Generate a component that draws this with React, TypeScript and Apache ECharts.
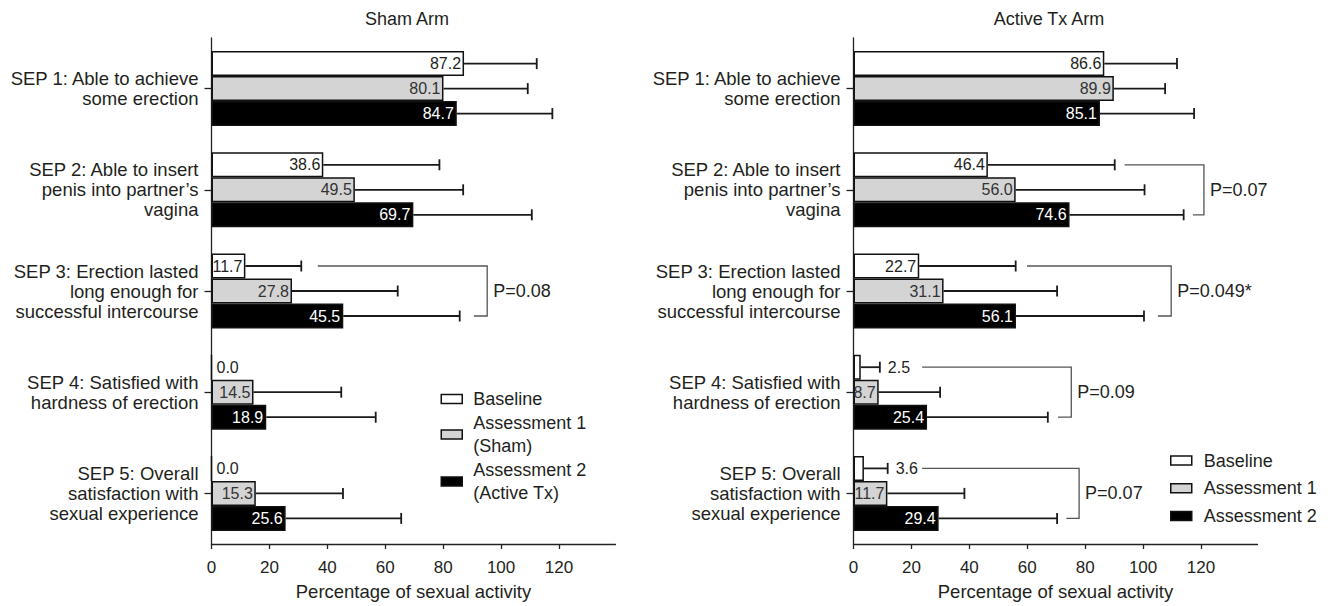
import React, { useEffect, useRef } from "react";
import * as echarts from "echarts";

const categories = [
  "SEP 1: Able to achieve\nsome erection",
  "SEP 2: Able to insert\npenis into partner’s\nvagina",
  "SEP 3: Erection lasted\nlong enough for\nsuccessful intercourse",
  "SEP 4: Satisfied with\nhardness of erection",
  "SEP 5: Overall\nsatisfaction with\nsexual experience",
];
const panelTitles = ["Sham Arm", "Active Tx Arm"];
const xTicks = [0, 20, 40, 60, 80, 100, 120];
const xAxisName = "Percentage of sexual activity";

const shamSeriesNames = ["Baseline", "Assessment 1\n(Sham)", "Assessment 2\n(Active Tx)"];
const activeSeriesNames = ["Baseline", "Assessment 1", "Assessment 2"];

const shamBaseline = [87.2, 38.6, 11.7, 0.0, 0.0];
const shamAssess1 = [80.1, 49.5, 27.8, 14.5, 15.3];
const shamAssess2 = [84.7, 69.7, 45.5, 18.9, 25.6];
// upper ends of the error bars
const shamBaselineErr = [112.3, 78.7, 31.0, 0, 0];
const shamAssess1Err = [109.2, 86.9, 64.3, 44.8, 45.4];
const shamAssess2Err = [117.7, 110.6, 85.7, 56.7, 65.5];

const activeBaseline = [86.6, 46.4, 22.7, 2.5, 3.6];
const activeAssess1 = [89.9, 56.0, 31.1, 8.7, 11.7];
const activeAssess2 = [85.1, 74.6, 56.1, 25.4, 29.4];
const activeBaselineErr = [111.7, 90.2, 56.0, 9.1, 11.8];
const activeAssess1Err = [107.6, 100.5, 70.3, 29.9, 38.3];
const activeAssess2Err = [117.6, 114.0, 100.3, 67.1, 70.3];

// p-value brackets: [category index, top arm start, vertical x, bottom arm start]
const shamBrackets = [[2, 36.7, 95.2, 90.6]];
const shamBracketLabels = ["P=0.08"];
const activeBrackets = [
  [1, 93.6, 121.0, 117.2],
  [2, 59.9, 109.7, 105.1],
  [3, 23.7, 75.2, 70.6],
  [4, 23.7, 77.9, 73.5],
];
const activeBracketLabels = ["P=0.07", "P=0.049*", "P=0.09", "P=0.07"];

const FONT = "'Liberation Sans', Arial, Helvetica, sans-serif";
const TEXT = "#231f20";
const FILLS = ["#ffffff", "#d4d4d4", "#000000"];
const LABEL_COLORS = ["#231f20", "#333333", "#ffffff"];
const X_MAX = 139.5;
const BAR_W = 25;

export default function App() {
  const ref = useRef<HTMLDivElement>(null);

  useEffect(() => {
    if (!ref.current) return;
    const chart = echarts.init(ref.current, undefined, { renderer: "svg" });

    const panels = [
      {
        names: shamSeriesNames,
        values: [shamBaseline, shamAssess1, shamAssess2],
        errs: [shamBaselineErr, shamAssess1Err, shamAssess2Err],
        brackets: shamBrackets,
        bracketLabels: shamBracketLabels,
      },
      {
        names: activeSeriesNames,
        values: [activeBaseline, activeAssess1, activeAssess2],
        errs: [activeBaselineErr, activeAssess1Err, activeAssess2Err],
        brackets: activeBrackets,
        bracketLabels: activeBracketLabels,
      },
    ];

    const grids = [
      { left: 211.5, top: 38, width: 404, height: 507 },
      { left: 853.5, top: 38, width: 404, height: 507 },
    ];

    const series: any[] = [];
    panels.forEach((p, pi) => {
      p.values.forEach((vals, si) => {
        series.push({
          type: "bar",
          name: p.names[si],
          xAxisIndex: pi,
          yAxisIndex: pi,
          barWidth: BAR_W,
          barGap: "0%",
          itemStyle: { color: FILLS[si], borderColor: "#111", borderWidth: 1.5 },
          label: {
            show: true,
            position: "insideRight",
            distance: 3,
            color: LABEL_COLORS[si],
            fontSize: 16,
            fontFamily: FONT,
            formatter: (prm: any) => Number(prm.value).toFixed(1),
          },
          data: vals.map((v) => (v < 5 ? { value: v, label: { show: false } } : v)),
          z: 2,
        });
      });
      p.values.forEach((vals, si) => {
        const errs = p.errs[si];
        const offset = (si - 1) * BAR_W;
        series.push({
          type: "custom",
          xAxisIndex: pi,
          yAxisIndex: pi,
          silent: true,
          z: 3,
          encode: { x: [0, 1], y: 2 },
          data: vals.map((v, c) => [v, errs[c], c]),
          renderItem: (params: any, api: any) => {
            const v = api.value(0);
            const e = api.value(1);
            const c = api.value(2);
            const base = api.coord([v, c]);
            const end = api.coord([e, c]);
            const y = base[1] + offset;
            const children: any[] = [];
            if (e > v) {
              children.push({
                type: "line",
                shape: { x1: base[0], y1: y, x2: end[0], y2: y },
                style: { stroke: "#1a1a1a", lineWidth: 1.8 },
              });
              children.push({
                type: "line",
                shape: { x1: end[0], y1: y - 5.5, x2: end[0], y2: y + 5.5 },
                style: { stroke: "#1a1a1a", lineWidth: 1.8 },
              });
            }
            if (v < 5) {
              const lx = (e > v ? end[0] : base[0]) + (e > v ? 8 : 5);
              children.push({
                type: "text",
                style: {
                  x: lx,
                  y: y,
                  text: Number(v).toFixed(1),
                  fill: TEXT,
                  fontSize: 16,
                  fontFamily: FONT,
                  verticalAlign: "middle",
                  align: "left",
                },
              });
            }
            return { type: "group", children };
          },
        });
      });
      series.push({
        type: "custom",
        xAxisIndex: pi,
        yAxisIndex: pi,
        silent: true,
        z: 3,
        encode: { x: [1, 2, 3], y: 0 },
        data: p.brackets,
        renderItem: (params: any, api: any) => {
          const c = api.value(0);
          const a = api.coord([api.value(1), c]);
          const v = api.coord([api.value(2), c]);
          const b = api.coord([api.value(3), c]);
          const top = a[1] - BAR_W;
          const bottom = a[1] + BAR_W;
          return {
            type: "group",
            children: [
              {
                type: "polyline",
                shape: {
                  points: [
                    [a[0], top],
                    [v[0], top],
                    [v[0], bottom],
                    [b[0], bottom],
                  ],
                },
                style: { stroke: "#555", lineWidth: 1.3, fill: "none" },
              },
              {
                type: "text",
                style: {
                  x: v[0] + 6,
                  y: a[1],
                  text: p.bracketLabels[params.dataIndex],
                  fill: TEXT,
                  fontSize: 18,
                  fontFamily: FONT,
                  verticalAlign: "middle",
                  align: "left",
                },
              },
            ],
          };
        },
      });
    });

    const legendItems = (names: string[]) =>
      names.map((n, i) => ({
        name: n,
        icon: "rect",
        itemStyle: { color: FILLS[i], borderColor: "#111", borderWidth: 1.5 },
      }));

    const option: any = {
      animation: false,
      textStyle: { fontFamily: FONT, color: TEXT },
      title: panelTitles.map((t, i) => ({
        text: t,
        left: grids[i].left + (67.5 / X_MAX) * grids[i].width,
        textAlign: "center",
        top: 10,
        padding: 0,
        textStyle: { fontSize: 18, fontWeight: "normal", color: TEXT, fontFamily: FONT },
      })),
      legend: [
        {
          data: legendItems(shamSeriesNames),
          orient: "vertical",
          left: 440.5,
          top: 387.5,
          padding: 0,
          itemWidth: 21,
          itemHeight: 9,
          itemGap: 1,
          selectedMode: false,
          textStyle: { fontSize: 18, lineHeight: 23, color: TEXT, fontFamily: FONT, padding: [0, 0, 0, 6] },
        },
        {
          data: legendItems(activeSeriesNames),
          orient: "vertical",
          left: 1170,
          top: 449,
          padding: 0,
          itemWidth: 21,
          itemHeight: 9,
          itemGap: 4.7,
          selectedMode: false,
          textStyle: { fontSize: 18, lineHeight: 23, color: TEXT, fontFamily: FONT, padding: [0, 0, 0, 7] },
        },
      ],
      grid: grids,
      xAxis: grids.map((g, i) => ({
        type: "value",
        gridIndex: i,
        min: 0,
        max: X_MAX,
        interval: 20,
        name: xAxisName,
        nameLocation: "middle",
        nameGap: 38,
        nameTextStyle: { fontSize: 18.5, color: TEXT, fontFamily: FONT },
        axisLine: { show: true, lineStyle: { color: "#222", width: 1.3 } },
        axisTick: { show: true, length: 5, customValues: xTicks, lineStyle: { color: "#222", width: 1.3 } },
        axisLabel: { customValues: xTicks, margin: 15, fontSize: 17, color: TEXT, fontFamily: FONT },
        splitLine: { show: false },
      })),
      yAxis: grids.map((g, i) => ({
        type: "category",
        gridIndex: i,
        inverse: true,
        data: categories,
        axisLine: { show: true, lineStyle: { color: "#222", width: 1.3 } },
        axisTick: { show: true, alignWithLabel: true, length: 7, lineStyle: { color: "#222", width: 1.3 } },
        axisLabel: {
          margin: 13,
          fontSize: 18.5,
          lineHeight: 20,
          color: TEXT,
          fontFamily: FONT,
          align: "right",
        },
      })),
      series,
    };

    chart.setOption(option);
    return () => chart.dispose();
  }, []);

  return (
    <div
      ref={ref}
      style={{ position: "fixed", left: 0, top: 0, width: 1335, height: 606, background: "#fff" }}
    />
  );
}
